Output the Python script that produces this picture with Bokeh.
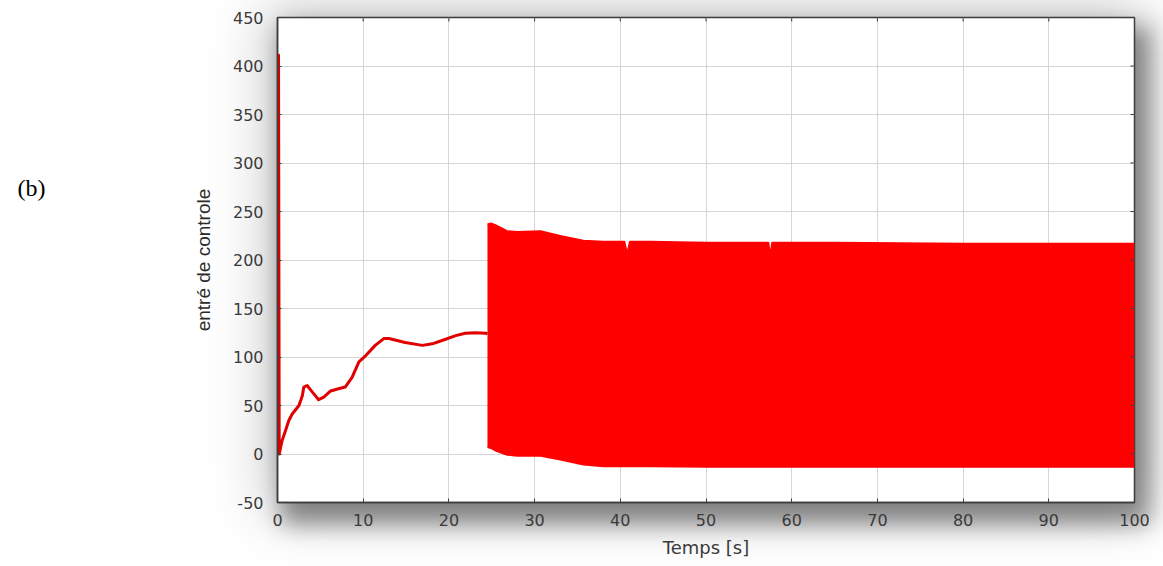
from bokeh.plotting import figure
from bokeh.models import FixedTicker, LinearAxis, InlineStyleSheet, Range1d
from bokeh.embed import file_html
from bokeh.resources import INLINE

# Control input: start-up peak and slow rise before switching begins (t < 24.5 s)
t_rise = [0.0, 0.05, 0.12, 0.2, 0.54, 0.93, 1.32, 1.7, 2.5, 2.9, 3.07, 3.45, 4.05, 4.8,
          5.4, 6.2, 7.0, 7.9, 8.7, 9.5, 10.3, 11.4, 12.4, 13.0, 14.9, 16.9, 18.05,
          19.2, 20.8, 21.9, 23.1, 24.3, 24.5]
u_rise = [0.0, 411.0, 411.0, 0.0, 14.0, 24.0, 34.5, 41.0, 50.0, 60.0, 69.0, 70.6, 64.0, 56.0,
          58.6, 65.0, 67.0, 69.0, 79.0, 95.0, 101.5, 112.0, 119.0, 119.0, 115.0, 112.0, 113.6,
          117.0, 122.0, 124.5, 125.0, 124.5, 124.0]

# Envelope of the fast switching control input (t >= 24.5 s)
t_sw = [24.5, 24.9, 25.5, 26.8, 28.0, 30.7, 33.0, 35.7, 38.0, 40.5, 40.8, 41.1,
        43.5, 50.0, 57.3, 57.5, 57.7, 65.0, 80.0, 100.0]
u_sw_max = [237.0, 238.0, 236.0, 230.0, 229.0, 230.0, 225.0, 220.0, 219.0, 219.0, 207.0, 219.0,
            219.0, 218.0, 218.0, 205.0, 218.0, 218.0, 217.0, 217.0]
u_sw_min = [7.0, 6.0, 3.0, -1.0, -2.0, -2.0, -6.0, -11.0, -13.0, -13.0, -13.0, -13.0,
            -13.0, -13.5, -13.5, -13.5, -13.5, -13.5, -13.5, -13.5]

x_ticks = list(range(0, 101, 10))
y_ticks = list(range(-50, 451, 50))

# panel tag and the height (in y units) at which it sits
tag_text = "(b)"
tag_y = 274

X0, X1, Y0, Y1 = 0, 100, -50, 450
FRAME_W, FRAME_H = 857, 485

RED = "#ff0000"
AXIS = "#3c3c3c"
TICK_TXT = "#3a3a3a"

shadow_css = InlineStyleSheet(css="""
:host { position: relative; background: #ffffff; }
:host::before {
  content: '';
  position: absolute;
  left: 277px; top: 17px; width: 857px; height: 485px;
  box-shadow: 0 0 55px 12px rgba(0,0,0,0.2), 10px 16px 22px 6px rgba(0,0,0,0.42);
}
""")

p = figure(width=1163, height=566,
           x_range=Range1d(X0, X1), y_range=Range1d(Y0, Y1),
           output_backend="svg", toolbar_location=None,
           min_border_left=277, min_border_right=29,
           min_border_top=17, min_border_bottom=64,
           border_fill_color=None, background_fill_color="white")
p.stylesheets = [shadow_css]

p.outline_line_color = AXIS
p.outline_line_width = 1.5

p.grid.grid_line_color = "#d6d6d6"
p.grid.grid_line_width = 1
p.xgrid.ticker = FixedTicker(ticks=x_ticks)
p.ygrid.ticker = FixedTicker(ticks=y_ticks)

# switching region drawn as its min/max envelope
p.varea(x=t_sw, y1=u_sw_min, y2=u_sw_max, fill_color=RED)
p.line(t_sw, u_sw_max, line_color=RED, line_width=1.5)
p.line(t_sw, u_sw_min, line_color=RED, line_width=1.5)

# transient before switching
p.line(t_rise, u_rise, line_color="#e00000", line_width=3, line_join="round")

# inward ticks along the top and right edges of the frame (4 px long)
tick_dy = 4 * (Y1 - Y0) / FRAME_H
tick_dx = 4 * (X1 - X0) / FRAME_W
p.segment(x0=x_ticks, y0=[Y1] * len(x_ticks), x1=x_ticks, y1=[Y1 - tick_dy] * len(x_ticks),
          line_color=AXIS, line_width=1)
p.segment(x0=[X1] * len(y_ticks), y0=y_ticks, x1=[X1 - tick_dx] * len(y_ticks), y1=y_ticks,
          line_color=AXIS, line_width=1)

for ax in (p.xaxis[0], p.yaxis[0]):
    ax.axis_line_color = AXIS
    ax.axis_line_width = 1.5
    ax.major_tick_in = 4
    ax.major_tick_out = 0
    ax.major_tick_line_color = AXIS
    ax.minor_tick_line_color = None
    ax.major_label_text_font = "DejaVu Sans"
    ax.major_label_text_font_size = "16px"
    ax.major_label_text_color = TICK_TXT

p.xaxis.ticker = FixedTicker(ticks=x_ticks)
p.yaxis.ticker = FixedTicker(ticks=y_ticks)
p.yaxis.major_label_overrides = {v: str(v) for v in y_ticks}
p.xaxis.major_label_standoff = 11
p.yaxis.major_label_standoff = 14

p.xaxis.axis_label = "Temps [s]"
p.xaxis.axis_label_text_font = "DejaVu Sans"
p.xaxis.axis_label_text_font_size = "18px"
p.xaxis.axis_label_text_font_style = "normal"
p.xaxis.axis_label_text_color = TICK_TXT
p.xaxis.axis_label_standoff = 8

p.yaxis.axis_label = "entré de controle"
p.yaxis.axis_label_text_font = "Liberation Sans"
p.yaxis.axis_label_text_font_size = "19px"
p.yaxis.axis_label_text_font_style = "normal"
p.yaxis.axis_label_text_color = "#2a2a2a"
p.yaxis.axis_label_standoff = 16

# outer left axis that carries only the panel tag, far left of the plot
tag_axis = LinearAxis(ticker=FixedTicker(ticks=[tag_y]),
                      major_label_overrides={tag_y: tag_text},
                      axis_line_color=None, major_tick_line_color=None,
                      minor_tick_line_color=None, major_label_standoff=138,
                      major_label_text_font="Liberation Serif",
                      major_label_text_font_size="24px",
                      major_label_text_color="black")
p.add_layout(tag_axis, "left")

open("out.html", "w").write(file_html(p, INLINE))
